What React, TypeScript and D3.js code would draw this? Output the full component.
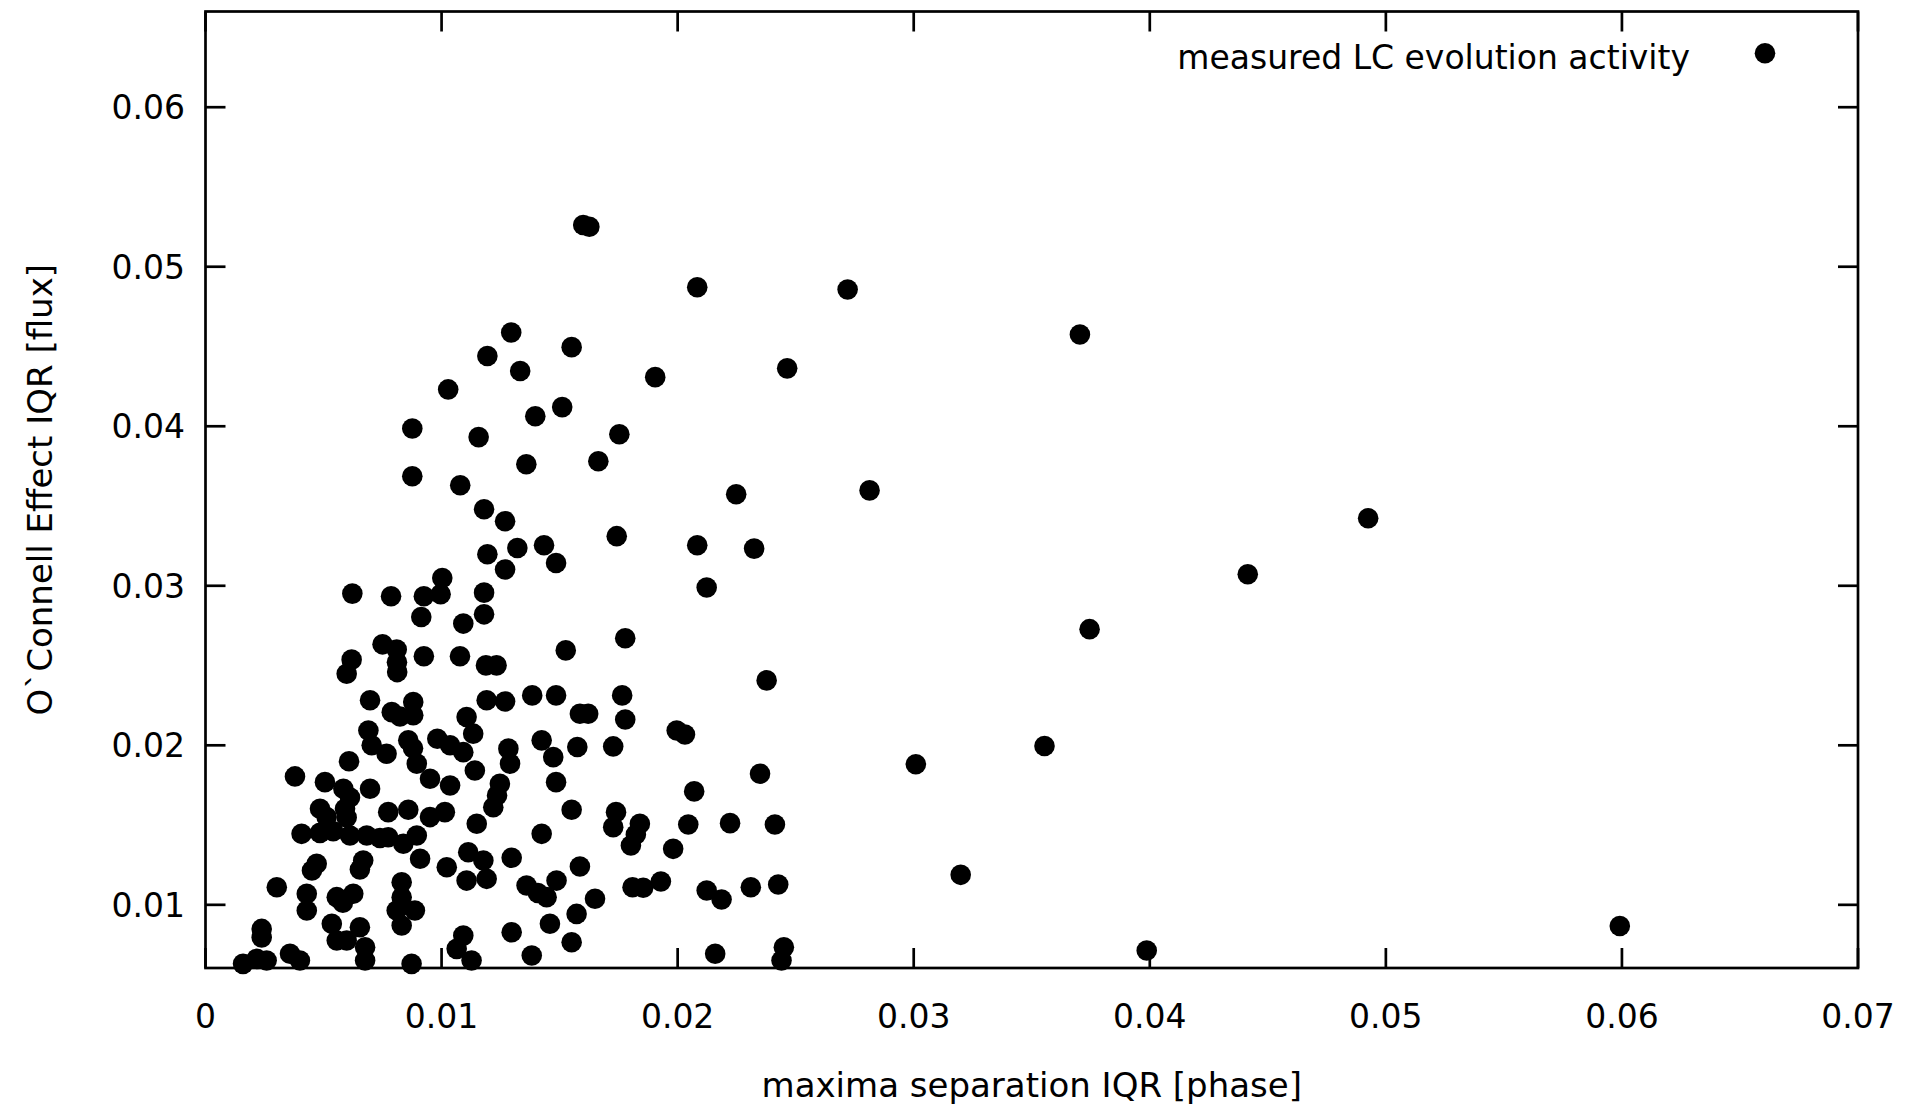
import React, { useEffect } from 'react';
import * as d3 from 'd3';

const maximaSeparation = [
  0.016, 0.01626, 0.02083, 0.01295, 0.01194, 0.01333, 0.01551, 0.01905, 0.02464, 0.01028,
  0.00876, 0.01157, 0.01397, 0.01511, 0.01753, 0.01359, 0.01664, 0.00876, 0.01079, 0.02248,
  0.0118,
  0.01269, 0.01194, 0.01321, 0.01434, 0.01485, 0.01269, 0.01003, 0.00996, 0.00925, 0.00914,
  0.01092, 0.0118, 0.0118, 0.00622, 0.00786, 0.0075, 0.0081, 0.00812, 0.00619, 0.00598,
  0.00925, 0.01078, 0.01188, 0.01233, 0.01526, 0.00697, 0.00789, 0.0088, 0.0088, 0.01191,
  0.01269, 0.01384, 0.01485, 0.01586, 0.01621, 0.0069, 0.00704, 0.00767, 0.00859, 0.00982,
  0.01092, 0.00895, 0.00951, 0.01106, 0.01134, 0.01283, 0.0129, 0.01424, 0.01473, 0.01575,
  0.01485, 0.00608, 0.00379, 0.00697, 0.01036, 0.01141, 0.01247, 0.00506, 0.00584,
  0.00485, 0.00591, 0.00513, 0.00598, 0.00541, 0.00485, 0.00407, 0.00774, 0.00859, 0.00951,
  0.01014, 0.01149, 0.01219, 0.01424, 0.01551, 0.00612, 0.00683, 0.00774, 0.00838, 0.00895,
  0.00668, 0.00471, 0.00909, 0.01022, 0.01113, 0.01177, 0.01106, 0.01191, 0.01297, 0.01586,
  0.00302, 0.00429, 0.00429, 0.00556, 0.00626, 0.00831, 0.00831, 0.0081, 0.00887, 0.00831,
  0.0136, 0.01445, 0.01487, 0.0165, 0.01459, 0.01572, 0.01551, 0.01297, 0.01092, 0.01064,
  0.01127, 0.01382, 0.00238, 0.00217, 0.00259, 0.00358, 0.004, 0.00535, 0.00556, 0.00654,
  0.00598, 0.00676, 0.00676, 0.00873,
  0.01742, 0.02083, 0.02324, 0.02123, 0.01778, 0.02377, 0.01765, 0.01778, 0.01996, 0.02031,
  0.01727, 0.02349, 0.0207, 0.01739, 0.01727, 0.0184, 0.01823, 0.01802, 0.02045, 0.02222,
  0.02412, 0.01981, 0.01809, 0.01854, 0.01929, 0.02123, 0.02186, 0.0231, 0.02426, 0.02159,
  0.0245, 0.0244,
  0.0272, 0.03704, 0.04925, 0.04415, 0.03745, 0.02813, 0.03554, 0.03009, 0.03199, 0.03987,
  0.05991,
  0.00811, 0.00824, 0.00879, 0.01036, 0.00612, 0.00739, 0.00451, 0.00654, 0.00582, 0.00238,
  0.00159, 0.01235, 0.01408,
];

const oconnellEffect = [
  0.05262, 0.05251, 0.04871, 0.04588, 0.0444, 0.04346, 0.04496, 0.04308, 0.04363, 0.04231,
  0.03986, 0.03932, 0.04063, 0.0412, 0.0395, 0.03762, 0.03781, 0.03687, 0.0363, 0.03574,
  0.0348,
  0.03405, 0.03198, 0.03237, 0.03254, 0.03143, 0.03102, 0.03049, 0.02947, 0.02934, 0.02804,
  0.02763, 0.02957, 0.02821, 0.02951, 0.02934, 0.02633, 0.026, 0.02459, 0.02537, 0.02449,
  0.02558, 0.02558, 0.02501, 0.02501, 0.02595, 0.02282, 0.02208, 0.02271, 0.02188, 0.02282,
  0.02275, 0.02313, 0.02313, 0.02198, 0.02198, 0.02093, 0.02, 0.01947, 0.02031, 0.02041,
  0.01957, 0.01885, 0.0179, 0.02177, 0.02073, 0.01979, 0.01885, 0.02031, 0.01926, 0.01989,
  0.01769, 0.019, 0.01805, 0.01728, 0.01748, 0.01842, 0.01759, 0.01769, 0.01728,
  0.01602, 0.01602, 0.0155, 0.01548, 0.01461, 0.01451, 0.01445, 0.01581, 0.01596, 0.0155,
  0.01581, 0.01508, 0.01612, 0.01445, 0.01596, 0.01435, 0.01435, 0.01424, 0.01383, 0.01435,
  0.01278, 0.01257, 0.01289, 0.01236, 0.0133, 0.01278, 0.01152, 0.01163, 0.01295, 0.0124,
  0.0111, 0.01069, 0.00964, 0.01048, 0.01069, 0.01142, 0.01048, 0.00964, 0.00964, 0.0087,
  0.01121, 0.01048, 0.01152, 0.01038, 0.00881, 0.00943, 0.00765, 0.00828, 0.00807, 0.00724,
  0.00651, 0.00682, 0.00849, 0.00661, 0.00651, 0.00693, 0.00651, 0.00881, 0.00776, 0.00859,
  0.00776, 0.00734, 0.00651, 0.0063,
  0.03311, 0.03254, 0.03233, 0.02989, 0.02671, 0.02407, 0.02313, 0.02162, 0.02093, 0.02068,
  0.01993, 0.01822, 0.01711, 0.01581, 0.01487, 0.01508, 0.01441, 0.01372, 0.01504, 0.01512,
  0.01504, 0.01351, 0.0111, 0.01107, 0.01146, 0.0109, 0.01033, 0.0111, 0.01127, 0.00693,
  0.00734, 0.00651,
  0.04857, 0.04575, 0.03423, 0.03072, 0.02728, 0.03598, 0.01996, 0.01881, 0.01188, 0.00714,
  0.00867,
  0.0252, 0.02181, 0.01981, 0.02, 0.01673, 0.01419, 0.01215, 0.01221, 0.01013, 0.00795,
  0.0063, 0.01686, 0.01074,
];

const xTicks = [0, 0.01, 0.02, 0.03, 0.04, 0.05, 0.06, 0.07];
const xTickLabels = ['0', '0.01', '0.02', '0.03', '0.04', '0.05', '0.06', '0.07'];
const yTicks = [0.01, 0.02, 0.03, 0.04, 0.05, 0.06];
const yTickLabels = ['0.01', '0.02', '0.03', '0.04', '0.05', '0.06'];
const legendLabel = 'measured LC evolution activity';
const xAxisTitle = 'maxima separation IQR [phase]';
const yAxisTitle = 'O`Connell Effect IQR [flux]';

export default function App() {
  useEffect(() => {
    document.body.style.margin = '0';
  }, []);

  const W = 1907;
  const H = 1108;
  const left = 205.5;
  const right = 1858;
  const top = 11.5;
  const bottom = 968;
  const tickLen = 20;
  const font = "'DejaVu Sans', Verdana, sans-serif";

  const x = d3.scaleLinear().domain([0, 0.07]).range([left, right]);
  const y = d3.scaleLinear().domain([0.00604, 0.066]).range([bottom, top]);

  const points = maximaSeparation.map((v, i) => [v, oconnellEffect[i]]);

  return (
    <svg
      width={W}
      height={H}
      style={{ position: 'absolute', left: 0, top: 0, display: 'block', background: '#fff' }}
      fontFamily={font}
    >
      <rect x={0} y={0} width={W} height={H} fill="#fff" />
      <g stroke="#000" strokeWidth={2.7}>
        {xTicks.map((t) => (
          <g key={'xt' + t}>
            <line x1={x(t)} x2={x(t)} y1={bottom} y2={bottom - tickLen} />
            <line x1={x(t)} x2={x(t)} y1={top} y2={top + tickLen} />
          </g>
        ))}
        {yTicks.map((t) => (
          <g key={'yt' + t}>
            <line x1={left} x2={left + tickLen} y1={y(t)} y2={y(t)} />
            <line x1={right} x2={right - tickLen} y1={y(t)} y2={y(t)} />
          </g>
        ))}
      </g>
      <g fontSize={33} fill="#000">
        {xTicks.map((t, i) => (
          <text key={'xl' + t} x={x(t)} y={1028} textAnchor="middle">
            {xTickLabels[i]}
          </text>
        ))}
        {yTicks.map((t, i) => (
          <text key={'yl' + t} x={185} y={y(t) + 12} textAnchor="end">
            {yTickLabels[i]}
          </text>
        ))}
      </g>
      <text x={(left + right) / 2} y={1097} textAnchor="middle" fontSize={34} fill="#000">
        {xAxisTitle}
      </text>
      <text
        transform={`translate(52, ${(top + bottom) / 2}) rotate(-90)`}
        textAnchor="middle"
        fontSize={34}
        fill="#000"
      >
        {yAxisTitle}
      </text>
      <text x={1690} y={69} textAnchor="end" fontSize={33} fill="#000">
        {legendLabel}
      </text>
      <circle cx={1765} cy={53.3} r={10.3} fill="#000" />
      <g fill="#000">
        {points.map((p, i) => (
          <circle key={i} cx={x(p[0])} cy={y(p[1])} r={10.3} />
        ))}
      </g>
      <rect
        x={left}
        y={top}
        width={right - left}
        height={bottom - top}
        fill="none"
        stroke="#000"
        strokeWidth={2.7}
      />
    </svg>
  );
}
